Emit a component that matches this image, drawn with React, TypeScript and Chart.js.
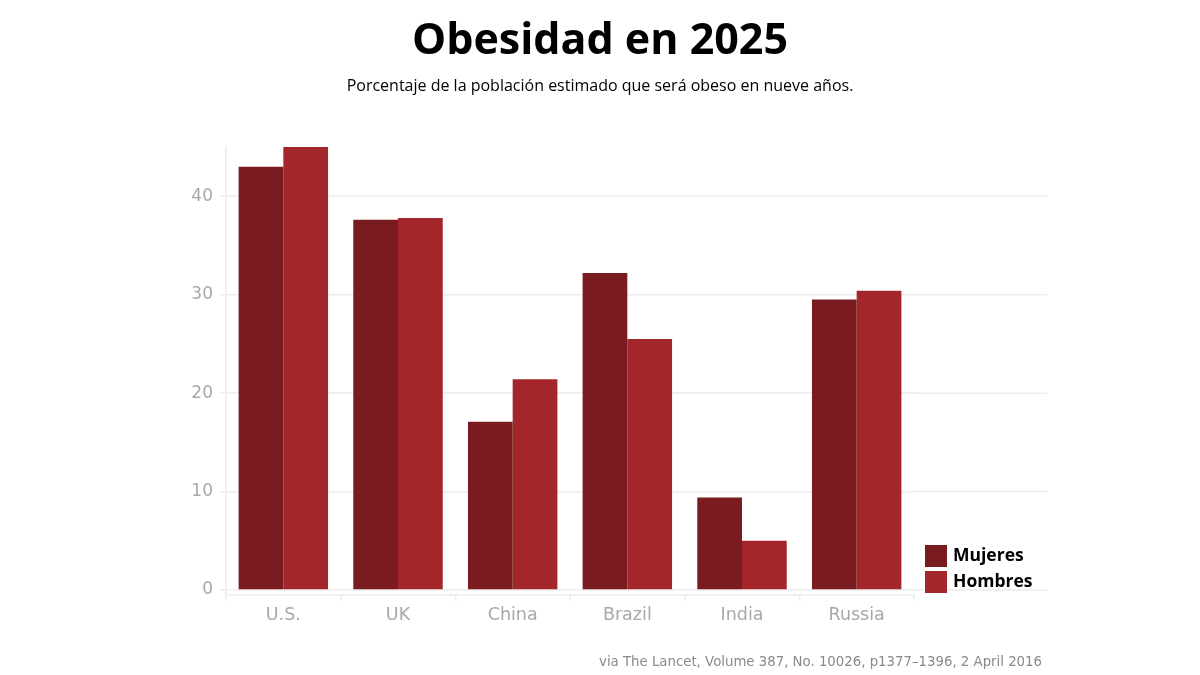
import React, { useEffect, useRef } from "react";
import { Chart, registerables } from "chart.js";

Chart.register(...registerables);

const categories = ["U.S.", "UK", "China", "Brazil", "India", "Russia"];
const mujeres = [43.0, 37.6, 17.1, 32.2, 9.4, 29.5];
const hombres = [45.0, 37.8, 21.4, 25.5, 5.0, 30.4];
const yTicks = [0, 10, 20, 30, 40];
const seriesNames = ["Mujeres", "Hombres"];
const seriesColors = ["#7a1c1f", "#a3262a"];
const titleText = "Obesidad en 2025";
const subtitleText = "Porcentaje de la población estimado que será obeso en nueve años.";
const sourceText = "via The Lancet, Volume 387, No. 10026, p1377–1396, 2 April 2016";

const GRID = "#ececec";

const decorPlugin = {
  id: "decor",
  beforeDatasetsDraw(chart: any) {
    const ctx = chart.ctx;
    const y = chart.scales.y;
    const area = chart.chartArea;
    ctx.save();
    ctx.strokeStyle = GRID;
    ctx.lineWidth = 1.5;
    yTicks.forEach((v) => {
      const py = y.getPixelForValue(v);
      ctx.beginPath();
      ctx.moveTo(area.right, py);
      ctx.lineTo(1047, py);
      ctx.stroke();
    });
    ctx.restore();
  },
  afterDraw(chart: any) {
    const ctx = chart.ctx;
    ctx.save();
    ctx.fillStyle = "#000";
    ctx.textAlign = "center";
    ctx.textBaseline = "middle";
    ctx.font = "bold 43px 'Open Sans'";
    ctx.fillText(titleText, 600, 42);
    ctx.font = "16px 'Open Sans'";
    ctx.fillText(subtitleText, 600, 86);

    ctx.textAlign = "right";
    ctx.fillStyle = "#8a8a8a";
    ctx.font = "13.3px 'DejaVu Sans'";
    ctx.fillText(sourceText, 1042, 663);

    // legend
    const ds = chart.data.datasets;
    ctx.textAlign = "left";
    ctx.font = "bold 17.5px 'Open Sans'";
    ds.forEach((d: any, i: number) => {
      const top = 545 + i * 26;
      ctx.fillStyle = d.backgroundColor;
      ctx.fillRect(925, top, 22, 22);
      ctx.fillStyle = "#000";
      ctx.fillText(d.label, 953, top + 11);
    });
    ctx.restore();
  },
};

export default function App() {
  const ref = useRef<HTMLCanvasElement>(null);
  useEffect(() => {
    if (!ref.current) return;
    const chart = new Chart(ref.current, {
      type: "bar",
      data: {
        labels: categories,
        datasets: [
          { label: seriesNames[0], data: mujeres, backgroundColor: seriesColors[0] },
          { label: seriesNames[1], data: hombres, backgroundColor: seriesColors[1] },
        ],
      },
      options: {
        animation: false,
        responsive: false,
        devicePixelRatio: 1,
        layout: { padding: { top: 147, right: 286, bottom: 0, left: 0 } },
        datasets: { bar: { categoryPercentage: 0.78, barPercentage: 1 } },
        plugins: { legend: { display: false }, tooltip: { enabled: false }, title: { display: false } },
        scales: {
          x: {
            afterFit(scale: any) {
              scale.height = 80;
            },
            grid: { drawOnChartArea: false, color: GRID, tickLength: 6, lineWidth: 1.5 },
            border: { color: GRID, width: 1.5 },
            ticks: { color: "#a8a8a8", font: { family: "'DejaVu Sans'", size: 17.5 }, padding: 4 },
          },
          y: {
            min: -0.5,
            max: 45,
            afterBuildTicks(scale: any) {
              scale.ticks = yTicks.map((v) => ({ value: v }));
            },
            afterFit(scale: any) {
              scale.width = 226;
            },
            grid: { color: GRID, tickLength: 6, lineWidth: 1.5 },
            border: { color: GRID, width: 1.5 },
            ticks: { color: "#a8a8a8", font: { family: "'DejaVu Sans'", size: 17 }, padding: 7 },
          },
        },
      },
      plugins: [decorPlugin],
    });
    return () => chart.destroy();
  }, []);
  return (
    <div style={{ position: "fixed", left: 0, top: 0, width: 1200, height: 675, background: "#fff" }}>
      <canvas ref={ref} width={1200} height={675} />
    </div>
  );
}
